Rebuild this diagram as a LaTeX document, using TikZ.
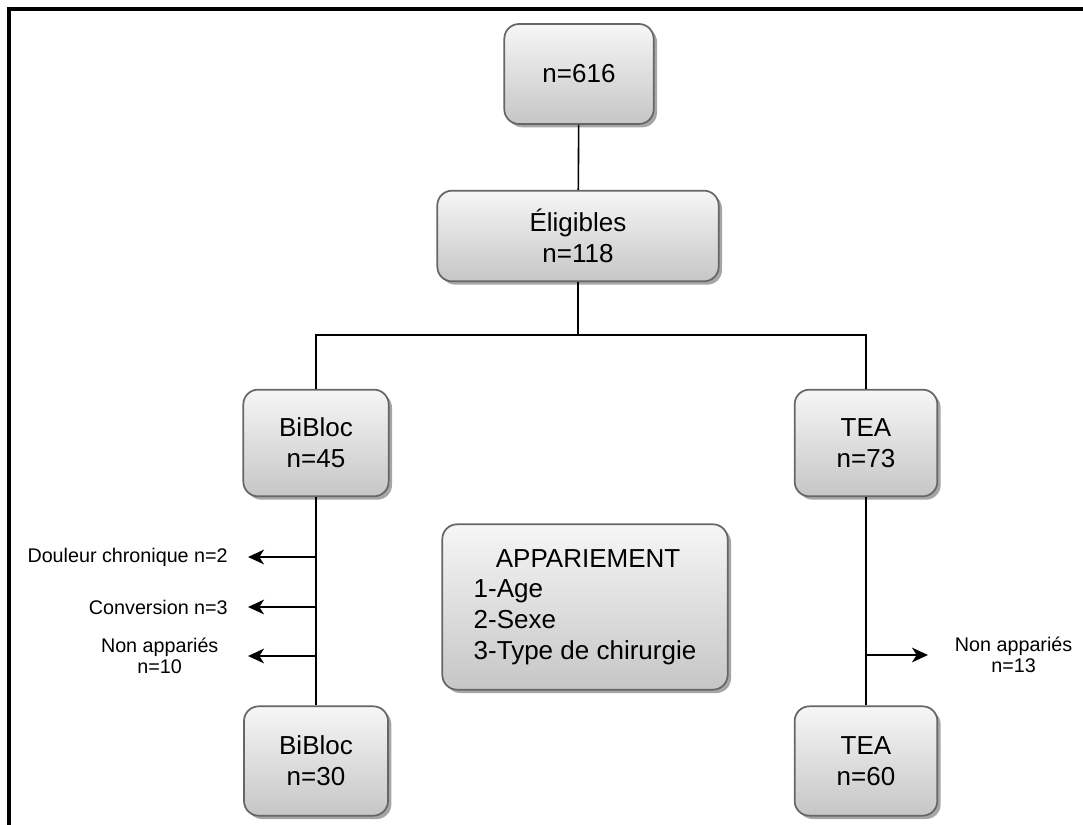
\documentclass[tikz,border=0pt]{standalone}
\usepackage{fontspec}
\setmainfont{Liberation Sans}
\usetikzlibrary{arrows.meta,shadows,positioning}

\definecolor{boxtop}{HTML}{F6F6F6}
\definecolor{boxbot}{HTML}{C6C6C6}
\definecolor{boxline}{HTML}{666666}

\tikzset{
    box/.style={draw=boxline, line width=1.3pt, rounded corners=11pt,
        top color=boxtop, bottom color=boxbot, align=center,
        font=\fontsize{19.5}{23}\selectfont,
        drop shadow={shadow xshift=2.5pt, shadow yshift=-2.5pt, opacity=0.35, fill=black}},
    lbl/.style={align=center, inner sep=0pt, font=\fontsize{14.8}{16}\selectfont},
    link/.style={line width=1.2pt},
    exit/.style={line width=1.2pt, -{Stealth[length=12pt,width=11pt,inset=3.5pt]}}
}

\begin{document}
\begin{tikzpicture}[x=0.75pt, y=-0.75pt]
    \useasboundingbox (0,0) rectangle (1083,825);
    \draw[line width=2.4pt] (1083,9) -- (9,9) -- (9,825);

    % boxes
    \node[box, minimum width=112pt, minimum height=75pt] (n616) at (579,74) {n=616};
    \node[box, minimum width=211pt, minimum height=68pt] (elig) at (578,236) {Éligibles\\n=118};
    \node[box, minimum width=109pt, minimum height=80pt] (bib45) at (316,443) {BiBloc\\n=45};
    \node[box, minimum width=107pt, minimum height=80pt] (tea73) at (866,443) {TEA\\n=73};
    \node[box, minimum width=214pt, minimum height=124pt, align=left,
        font=\fontsize{19.5}{23}\selectfont] (match) at (585,607)
        {\hspace*{0.85em}APPARIEMENT\\1-Age\\2-Sexe\\3-Type de chirurgie};
    \node[box, minimum width=108pt, minimum height=82pt] (bib30) at (316,761) {BiBloc\\n=30};
    \node[box, minimum width=107pt, minimum height=82pt] (tea60) at (866,761) {TEA\\n=60};

    % tree
    \coordinate (split) at (578,335);
    \draw[link] (n616) -- (elig);
    \draw[link] (elig) -- (split);
    \draw[link] (bib45) |- (split) -| (tea73);
    \draw[link] (bib45) -- (bib30);
    \draw[link] (tea73) -- (tea60);

    % exclusions
    \coordinate (b1) at (316,557);
    \coordinate (b2) at (316,607);
    \coordinate (b3) at (316,656);
    \coordinate (t1) at (248,557);
    \coordinate (t2) at (248,607);
    \coordinate (t3) at (248,656);
    \draw[exit] (b1) -- (t1);
    \draw[exit] (b2) -- (t2);
    \draw[exit] (b3) -- (t3);
    \node[lbl, left=15pt of t1] (pain) {Douleur chronique n=2};
    \node[lbl, left=15pt of t2] (conv) {Conversion n=3};
    \node[lbl, left=22pt of t3] (unBi) {Non appariés\\n=10};

    \coordinate (r1) at (866,655);
    \coordinate (t4) at (928,655);
    \draw[exit] (r1) -- (t4);
    \node[lbl, right=20pt of t4] (unTea) {Non appariés\\n=13};
\end{tikzpicture}
\end{document}
